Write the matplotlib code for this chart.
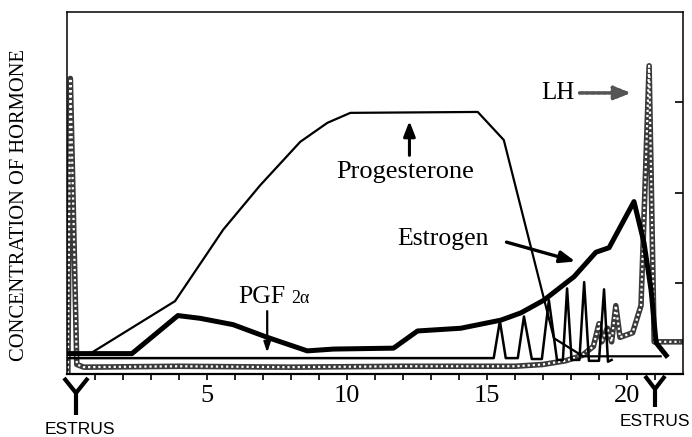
import matplotlib
matplotlib.use("Agg")
import matplotlib.pyplot as plt
from matplotlib.lines import Line2D

# ---- data (day of cycle, relative concentration) ----
prog_day = [0.88, 3.86, 5.58, 6.90, 8.33, 9.30, 10.12, 14.67, 15.60, 17.39, 18.43, 21.2]
prog_val = [0.23, 0.80, 1.59, 2.08, 2.56, 2.77, 2.88, 2.89, 2.58, 0.39, 0.19, 0.19]

estr_day = [0.0, 2.32, 3.96, 4.75, 5.93, 7.15, 8.58, 9.52, 11.66, 12.52, 14.06, 15.5,
            16.21, 17.03, 18.11, 18.89, 19.36, 20.25, 20.61, 20.86, 21.04, 21.4]
estr_val = [0.22, 0.22, 0.64, 0.61, 0.54, 0.40, 0.25, 0.27, 0.28, 0.47, 0.50, 0.59,
            0.67, 0.81, 1.07, 1.34, 1.39, 1.90, 1.44, 0.92, 0.34, 0.20]

pgf_day = [0.0, 15.24, 15.46, 15.67, 16.10, 16.32, 16.60, 16.96, 17.21, 17.50,
           17.71, 17.86, 18.02, 18.30, 18.47, 18.64, 19.00, 19.18, 19.32, 19.45]
pgf_val = [0.17, 0.17, 0.58, 0.17, 0.17, 0.63, 0.16, 0.16, 0.81, 0.15,
           0.15, 0.94, 0.15, 0.15, 1.01, 0.14, 0.14, 0.93, 0.13, 0.15]

lh_day = [0.03, 0.12, 0.35, 0.6, 4.0, 8.0, 12.0, 16.0, 17.0, 17.8, 18.4, 18.8, 19.0,
          19.1, 19.3, 19.45, 19.6, 19.75, 20.2, 20.5, 20.79, 20.97, 21.3, 21.9]
lh_val = [0.0, 3.26, 0.10, 0.07, 0.08, 0.07, 0.08, 0.08, 0.10, 0.14, 0.20, 0.30, 0.55,
          0.35, 0.50, 0.35, 0.75, 0.40, 0.45, 0.75, 3.40, 0.35, 0.35, 0.35]

x_ticks = [5, 10, 15, 20]
x_tick_labels = ["5", "10", "15", "20"]

W, H = 692, 437
fig = plt.figure(figsize=(W / 100, H / 100), dpi=100)
ax = fig.add_axes([67 / W, 1 - 373.5 / H, (683 - 67) / W, (373.5 - 11.5) / H])
ax.set_xlim(0, 22)
ax.set_ylim(0, 4)

serif = "Liberation Serif"
sans = "Liberation Sans"

# LH: chain-like line (dark outline with light beads)
ax.plot(lh_day, lh_val, color="#3a3a3a", lw=4.0, solid_joinstyle="round", zorder=2)
ax.plot(lh_day, lh_val, color="white", lw=1.6, ls=(0, (1.0, 1.3)), zorder=2.1)
ax.plot(pgf_day, pgf_val, color="black", lw=1.8, zorder=3)
ax.plot(prog_day, prog_val, color="black", lw=1.6, zorder=3)
ax.plot(estr_day, estr_val, color="black", lw=3.6, solid_joinstyle="round", zorder=4)

# axes styling
for s in ["left", "right", "top"]:
    ax.spines[s].set_linewidth(1.1)
ax.spines["bottom"].set_linewidth(1.6)
ax.set_xticks(x_ticks)
ax.set_xticklabels(x_tick_labels, fontfamily=serif, fontsize=19)
ax.set_xticks(range(1, 22), minor=True)
ax.tick_params(axis="x", which="both", direction="out", length=4, width=1.2, pad=4)
ax.yaxis.tick_right()
ax.set_yticks([1, 2, 3])
ax.set_yticklabels([])
ax.tick_params(axis="y", which="both", direction="in", length=6, width=1.2, left=False)

# annotations
ax.text(12.09, 2.23, "Progesterone", fontfamily=serif, fontsize=19, ha="center", va="center")
ax.annotate("", xy=(12.23, 2.82), xytext=(12.23, 2.38),
            arrowprops=dict(arrowstyle="-|>,head_width=0.35,head_length=0.9", color="black", lw=2.2))
ax.text(13.42, 1.49, "Estrogen", fontfamily=serif, fontsize=18.5, ha="center", va="center")
ax.annotate("", xy=(18.25, 1.23), xytext=(15.6, 1.46),
            arrowprops=dict(arrowstyle="-|>,head_width=0.35,head_length=0.9", color="black", lw=2.4))
ax.text(6.11, 0.78, "PGF", fontfamily=serif, fontsize=18.5, ha="left", va="baseline")
ax.text(8.0, 0.78, "2α", fontfamily=serif, fontsize=13, ha="left", va="baseline")
ax.annotate("", xy=(7.15, 0.20), xytext=(7.15, 0.72),
            arrowprops=dict(arrowstyle="-|>,head_width=0.2,head_length=0.6", color="black", lw=1.6))
ax.text(17.53, 3.10, "LH", fontfamily=serif, fontsize=18, ha="center", va="center")
ax.annotate("", xy=(20.25, 3.10), xytext=(18.21, 3.10),
            arrowprops=dict(arrowstyle="-|>,head_width=0.4,head_length=1.0", color="#555555",
                            lw=2.6, ls=(0, (1, 0.6))))

fig.text(20 / W, 1 - 205 / H, "CONCENTRATION OF HORMONE", fontfamily=serif, fontsize=14.8,
         rotation=90, ha="center", va="center")

# estrus markers (Y shapes) below the axis
def ymark(cx, top, mid, bot, half):
    f = lambda px, py: (px / W, 1 - py / H)
    for (x0, y0), (x1, y1) in [((cx - half, top), (cx, mid)), ((cx + half, top), (cx, mid)),
                               ((cx, mid), (cx, bot))]:
        a, b = f(x0, y0), f(x1, y1)
        fig.add_artist(Line2D([a[0], b[0]], [a[1], b[1]], transform=fig.transFigure,
                              color="black", lw=3.0, solid_capstyle="butt"))

ymark(76, 378, 393, 415, 12)
ymark(655, 376, 389, 407, 10)
fig.text(80 / W, 1 - 430 / H, "ESTRUS", fontfamily=sans, fontsize=12.5, ha="center", va="center")
fig.text(655 / W, 1 - 421.5 / H, "ESTRUS", fontfamily=sans, fontsize=12.5, ha="center", va="center")

fig.savefig("out.png", dpi=100)
